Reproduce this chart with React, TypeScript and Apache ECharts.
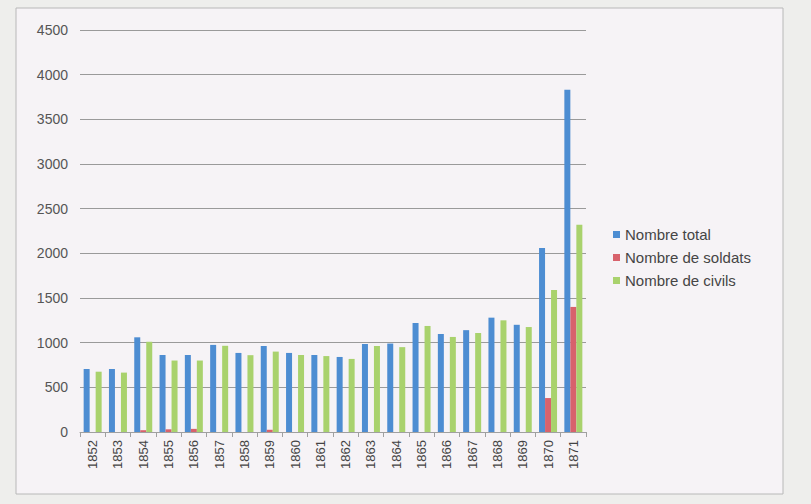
import React, { useEffect, useRef } from "react";
import * as echarts from "echarts";

const years = ["1852","1853","1854","1855","1856","1857","1858","1859","1860","1861","1862","1863","1864","1865","1866","1867","1868","1869","1870","1871"];
const totalValues = [705, 705, 1060, 862, 862, 975, 885, 963, 885, 862, 840, 985, 990, 1220, 1097, 1140, 1280, 1200, 2060, 3830];
const soldierValues = [0, 0, 20, 30, 35, 0, 0, 25, 0, 0, 0, 0, 0, 0, 0, 0, 0, 0, 380, 1400];
const civilValues = [675, 665, 1010, 800, 800, 965, 860, 900, 862, 850, 818, 963, 950, 1187, 1064, 1108, 1250, 1175, 1590, 2320];
const seriesNames = ["Nombre total", "Nombre de soldats", "Nombre de civils"];
const colors = ["#4d8dd2", "#d8626c", "#a9d26d"];

export default function App() {
  const ref = useRef<HTMLDivElement>(null);
  useEffect(() => {
    if (!ref.current) return;
    const chart = echarts.init(ref.current, undefined, { renderer: "svg" });
    const font = "Liberation Sans";
    chart.setOption({
      animation: false,
      backgroundColor: "#eeeeec",
      color: colors,
      graphic: [
        {
          type: "rect",
          shape: { x: 16, y: 8, width: 767, height: 486 },
          style: { fill: "#f6f3f6", stroke: "#b8b8b8", lineWidth: 1 },
          z: -10,
        },
      ],
      grid: { left: 80, right: 225, top: 30, bottom: 72, containLabel: false },
      legend: {
        orient: "vertical",
        left: 608,
        top: 222,
        itemWidth: 7,
        itemHeight: 7,
        itemGap: 8,
        icon: "rect",
        textStyle: { fontFamily: font, fontSize: 15, color: "#454545" },
        data: seriesNames,
      },
      xAxis: {
        type: "category",
        data: years,
        axisLine: { show: true, lineStyle: { color: "#a0a0a0" } },
        axisTick: { show: true, length: 5, lineStyle: { color: "#a0a0a0" } },
        axisLabel: { rotate: 90, fontFamily: font, fontSize: 13, color: "#444", margin: 8, interval: 0 },
      },
      yAxis: {
        type: "value",
        min: 0,
        max: 4500,
        interval: 500,
        axisLine: { show: false },
        axisTick: { show: false },
        splitLine: { lineStyle: { color: "#9a9a9a", width: 1 } },
        axisLabel: {
          fontFamily: font,
          fontSize: 14,
          color: "#555",
          margin: 12,
          formatter: (v: number) => String(v),
        },
      },
      series: [
        { name: seriesNames[0], type: "bar", data: totalValues, barWidth: 6, barGap: "0%" },
        { name: seriesNames[1], type: "bar", data: soldierValues, barWidth: 6, barGap: "0%" },
        { name: seriesNames[2], type: "bar", data: civilValues, barWidth: 6, barGap: "0%" },
      ],
    });
    return () => chart.dispose();
  }, []);
  return (
    <div
      ref={ref}
      style={{ position: "fixed", left: 0, top: 0, width: 811, height: 504 }}
    />
  );
}
